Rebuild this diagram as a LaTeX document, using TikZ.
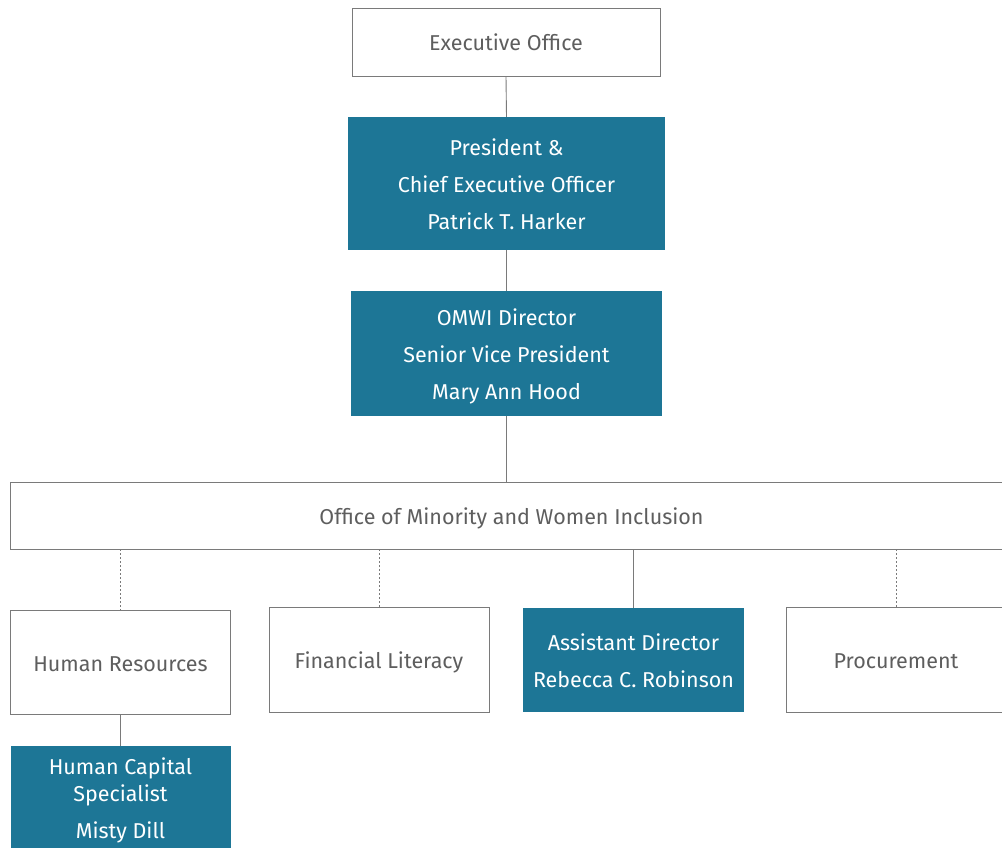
\documentclass[tikz,border=0pt]{standalone}
\usepackage{fontspec}
\setmainfont{Fira Sans}
\definecolor{teal}{HTML}{1D7696}
\definecolor{txtgray}{HTML}{5E5E5E}
\definecolor{linegray}{HTML}{7A7A7A}
\begin{document}
\begin{tikzpicture}[x=1pt,y=-1pt,
  plainbox/.style={draw=linegray,line width=0.9pt,fill=white,inner sep=0pt},
  tealbox/.style={fill=teal,inner sep=0pt},
  graytext/.style={text=txtgray,inner sep=0pt,anchor=base,align=center,font=\fontsize{21.5}{37}\selectfont},
  whitetext/.style={text=white,inner sep=0pt,anchor=base,align=center,font=\fontsize{21.5}{37}\selectfont},
  solidlink/.style={draw=linegray,line width=0.9pt},
  dotlink/.style={draw=linegray,line width=0.9pt,dash pattern=on 2pt off 2pt}]
\useasboundingbox (0,0) rectangle (1002,848);
\begin{scope}
\clip (0,0) rectangle (1002,848);
% boxes
\node[plainbox,minimum width=308,minimum height=68] (exec) at (506,42) {};
\node[tealbox,minimum width=317,minimum height=133] (pres) at (506.5,183.5) {};
\node[tealbox,minimum width=311,minimum height=125] (omwi) at (506.5,353.5) {};
\node[plainbox,minimum width=1003,minimum height=67] (office) at (511.5,515.5) {};
\node[plainbox,minimum width=220,minimum height=104] (hr) at (120.5,662) {};
\node[plainbox,minimum width=220,minimum height=105] (fl) at (379,659.5) {};
\node[tealbox,minimum width=221,minimum height=104] (ad) at (633.5,660) {};
\node[plainbox,minimum width=220,minimum height=105] (proc) at (896,659.5) {};
\node[tealbox,minimum width=220,minimum height=108] (hcs) at (120.5,800) {};
% texts (base anchor = baseline of last line)
\node[graytext] (exect) at (506,51) {Executive Office};
\node[whitetext] (prest) at (506.5,229.5) {President \&\\Chief Executive Officer\\Patrick T. Harker};
\node[whitetext] (omwit) at (506.5,399.7) {OMWI Director\\Senior Vice President\\Mary Ann Hood};
\node[graytext] (officet) at (511.5,524) {Office of Minority and Women Inclusion};
\node[graytext] (hrt) at (120.5,671) {Human Resources};
\node[graytext] (flt) at (379,668.3) {Financial Literacy};
\node[whitetext] (adt) at (633.5,687.3) {Assistant Director\\Rebecca C. Robinson};
\node[graytext] (proct) at (896,668.3) {Procurement};
\node[whitetext,font=\fontsize{21.5}{26.7}\selectfont] (hcst) at (120.5,838.3) {Human Capital\\Specialist\\[10pt]Misty Dill};
% connectors
\draw[solidlink] (exec.south) -- (pres.north);
\draw[solidlink] (pres.south) -- (omwi.north);
\draw[solidlink] (omwi.south) -- (omwi.south |- office.north);
\draw[dotlink] (hr.north |- office.south) -- (hr.north);
\draw[dotlink] (fl.north |- office.south) -- (fl.north);
\draw[solidlink] (ad.north |- office.south) -- (ad.north);
\draw[dotlink] (proc.north |- office.south) -- (proc.north);
\draw[solidlink] (hr.south) -- (hcs.north);
\end{scope}
\end{tikzpicture}
\end{document}
